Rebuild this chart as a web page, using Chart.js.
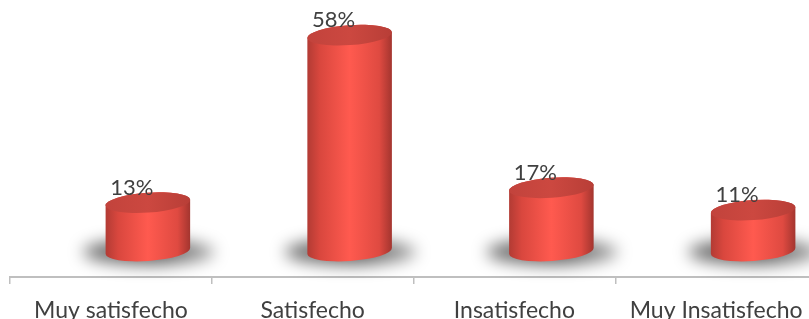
<!DOCTYPE html>
<html lang="es">
<head>
<meta charset="UTF-8">
<title>Nivel de satisfacción</title>
<script src="https://cdn.jsdelivr.net/npm/chart.js@4.4.1/dist/chart.umd.min.js"></script>
<style>
  html, body { margin: 0; padding: 0; background: #fff; overflow: hidden; }
  #wrap { width: 820px; height: 319px; position: relative; }
</style>
</head>
<body>
<div id="wrap"><canvas id="chart"></canvas></div>
<script>
const categories = ['Muy satisfecho', 'Satisfecho', 'Insatisfecho', 'Muy Insatisfecho'];
const percentValues = [13, 58, 17, 11];
const valueLabels = ['13%', '58%', '17%', '11%'];

// cylinders are drawn by hand on top of invisible bars (3D look, like the Excel original)
const cylinderPlugin = {
  id: 'cylinders',
  afterDatasetsDraw(chart) {
    const ctx = chart.ctx;
    const meta = chart.getDatasetMeta(0);
    const base = chart.scales.y.getPixelForValue(0);
    const dx = 37, dy = -26, ry = 10, rot = -0.07;
    const cyl = meta.data.map(bar => ({
      x: bar.x, y: bar.y,
      cx: bar.x + dx, top: bar.y + dy, bottom: base + dy, rx: bar.width / 2
    }));

    // soft floor shadows
    ctx.save();
    ctx.filter = 'blur(8px)';
    cyl.forEach(c => {
      const s = ctx.createLinearGradient(c.cx - c.rx * 1.6, 0, c.cx + c.rx * 1.6, 0);
      s.addColorStop(0, 'rgba(0,0,0,0.55)');
      s.addColorStop(0.6, 'rgba(0,0,0,0.6)');
      s.addColorStop(1, 'rgba(0,0,0,0.35)');
      ctx.fillStyle = s;
      ctx.beginPath();
      ctx.ellipse(c.cx + 1, c.bottom + 1, c.rx * 1.55, ry * 1.3, 0, 0, Math.PI * 2);
      ctx.fill();
    });
    ctx.restore();

    cyl.forEach(c => {
      const cos = Math.cos(rot), sin = Math.sin(rot);
      // body
      const g = ctx.createLinearGradient(c.cx - c.rx, 0, c.cx + c.rx, 0);
      g.addColorStop(0, '#b23b34');
      g.addColorStop(0.15, '#d9473e');
      g.addColorStop(0.5, '#ff5a4f');
      g.addColorStop(0.85, '#df4a41');
      g.addColorStop(1, '#a3352f');
      ctx.save();
      ctx.fillStyle = g;
      ctx.beginPath();
      ctx.moveTo(c.cx - c.rx * cos, c.top - c.rx * sin);
      ctx.lineTo(c.cx - c.rx * cos, c.bottom - c.rx * sin);
      ctx.ellipse(c.cx, c.bottom, c.rx, ry, rot, Math.PI, 0, true);
      ctx.lineTo(c.cx + c.rx * cos, c.top + c.rx * sin);
      ctx.ellipse(c.cx, c.top, c.rx, ry, rot, 0, Math.PI, true);
      ctx.closePath();
      ctx.fill();

      // top face
      const t = ctx.createLinearGradient(c.cx - c.rx, 0, c.cx + c.rx, 0);
      t.addColorStop(0, '#c2433c');
      t.addColorStop(0.5, '#cc4840');
      t.addColorStop(1, '#b83e37');
      ctx.fillStyle = t;
      ctx.beginPath();
      ctx.ellipse(c.cx, c.top, c.rx, ry, rot, 0, Math.PI * 2);
      ctx.fill();
      ctx.restore();
    });

    // value labels
    ctx.save();
    ctx.font = '22px Lato';
    ctx.fillStyle = '#404040';
    ctx.textAlign = 'center';
    ctx.textBaseline = 'middle';
    cyl.forEach((c, i) => {
      ctx.fillText(valueLabels[i], c.x + 21, c.y - 41);
    });
    ctx.restore();
  }
};

new Chart(document.getElementById('chart'), {
  type: 'bar',
  data: {
    labels: categories,
    datasets: [{
      data: percentValues,
      backgroundColor: 'rgba(0,0,0,0)',
      borderWidth: 0,
      categoryPercentage: 1,
      barPercentage: 0.42
    }]
  },
  options: {
    responsive: true,
    maintainAspectRatio: false,
    animation: false,
    layout: { padding: { left: 10, right: 3, top: 9, bottom: 0 } },
    plugins: {
      legend: { display: false },
      tooltip: { enabled: false }
    },
    scales: {
      x: {
        offset: true,
        afterFit(scale) { scale.height = 42; },
        grid: { display: true, drawOnChartArea: false, tickLength: 7, color: '#bfbfbf', lineWidth: 1.5 },
        border: { display: true, color: '#bfbfbf', width: 2 },
        ticks: { font: { family: 'Lato', size: 23 }, color: '#404040', padding: 13 }
      },
      y: {
        display: false,
        min: 0,
        max: 72
      }
    }
  },
  plugins: [cylinderPlugin]
});
</script>
</body>
</html>
